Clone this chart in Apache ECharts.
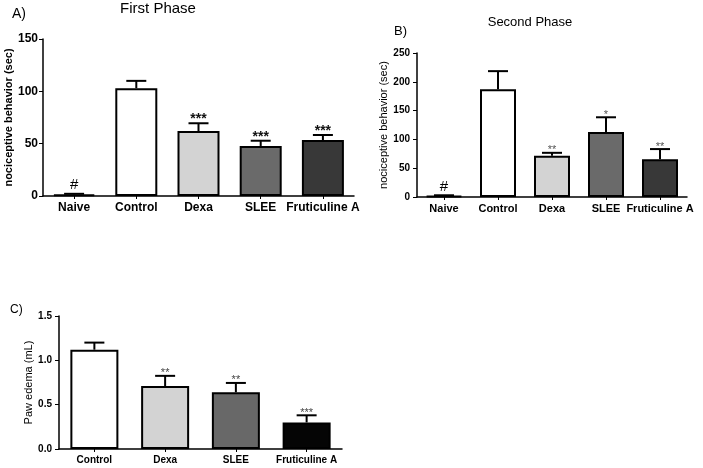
<!DOCTYPE html>
<html><head><meta charset="utf-8">
<script src="https://cdn.jsdelivr.net/npm/echarts@6/dist/echarts.min.js"></script>
<style>html,body{margin:0;padding:0;background:#fff}#c{width:703px;height:468px}</style>
</head><body><div id="c"></div>
<script>
const categoriesAB = ['Naive', 'Control', 'Dexa', 'SLEE', 'Fruticuline A'];
const phase1Means = [1.5, 103, 62, 47.8, 53.5];
const phase1Err = [0.6, 7, 7.5, 5, 4.8];
const phase1Sig = ['#', '', '***', '***', '***'];
const phase1Ticks = [0, 50, 100, 150];
const phase2Means = [2, 187, 71.5, 112.8, 65.7];
const phase2Err = [1, 31.5, 5.2, 25.6, 17.5];
const phase2Sig = ['#', '', '**', '*', '**'];
const phase2Ticks = [0, 50, 100, 150, 200, 250];
const categoriesC = ['Control', 'Dexa', 'SLEE', 'Fruticuline A'];
const edemaMeans = [1.12, 0.71, 0.64, 0.30];
const edemaErr = [0.08, 0.115, 0.105, 0.08];
const edemaSig = ['', '**', '**', '***'];
const edemaTicks = [0, 0.5, 1.0, 1.5];

const colorsAB = ['#ffffff', '#ffffff', '#d3d3d3', '#6a6a6a', '#383838'];
const colorsC = ['#ffffff', '#d3d3d3', '#686868', '#050505'];

const chart = echarts.init(document.getElementById('c'));
const FONT = 'Liberation Sans, Arial, sans-serif';

function barSeries(idx, means, colors, width) {
  return {
    type: 'bar', xAxisIndex: idx, yAxisIndex: idx, barWidth: width,
    data: means.map((v, i) => ({ value: v, itemStyle: { color: colors[i] } })),
    itemStyle: { borderColor: '#000', borderWidth: 2 },
    silent: true, animation: false, z: 2
  };
}
function errSeries(idx, means, errs, sigs, sigSize, sigColor, sigWeight) {
  return {
    type: 'custom', xAxisIndex: idx, yAxisIndex: idx, animation: false, silent: true, z: 3,
    data: means.map((v, i) => [i, v, v + errs[i]]),
    renderItem: function (params, api) {
      const i = api.value(0);
      const b = api.coord([i, api.value(1)]);
      const t = api.coord([i, api.value(2)]);
      const hw = 10;
      const st = { stroke: '#000', lineWidth: 2 };
      const children = [
        { type: 'line', shape: { x1: b[0], y1: b[1], x2: t[0], y2: t[1] }, style: st },
        { type: 'line', shape: { x1: t[0] - hw, y1: t[1], x2: t[0] + hw, y2: t[1] }, style: st }
      ];
      const s = sigs[i];
      if (s) {
        const isHash = s === '#';
        children.push({
          type: 'text',
          style: {
            text: s, x: t[0], y: t[1] - (isHash ? 1 : 0) + (s.indexOf('*') >= 0 ? 3 : 0),
            align: 'center', verticalAlign: 'bottom',
            fontSize: isHash ? 15 : sigSize, fontFamily: FONT,
            fontWeight: isHash ? 'normal' : sigWeight,
            fill: isHash ? '#000' : sigColor
          }
        });
      }
      return { type: 'group', children: children };
    }
  };
}
function xAxisDef(idx, cats, size) {
  return {
    type: 'category', gridIndex: idx, data: cats,
    axisLine: { lineStyle: { color: '#000', width: 1.5 } },
    axisTick: { show: true, alignWithLabel: true, length: 3, lineStyle: { color: '#000' } },
    axisLabel: { color: '#000', fontSize: size, fontWeight: 'bold', fontFamily: FONT, margin: 6, interval: 0 }
  };
}
function yAxisDef(idx, ticks, name, nameBold, nameSize, gap, labelSize, margin, decimals) {
  return {
    type: 'value', gridIndex: idx, min: ticks[0], max: ticks[ticks.length - 1],
    interval: ticks[1] - ticks[0],
    name: name, nameLocation: 'middle', nameGap: gap,
    nameTextStyle: { color: '#000', fontSize: nameSize, fontWeight: nameBold ? 'bold' : 'normal', fontFamily: FONT },
    axisLine: { show: true, lineStyle: { color: '#000', width: 1.5 } },
    axisTick: { show: true, length: 4, lineStyle: { color: '#000' } },
    splitLine: { show: false },
    axisLabel: {
      color: '#000', fontSize: labelSize, fontWeight: 'bold', fontFamily: FONT, margin: margin,
      formatter: function (v) { return decimals ? v.toFixed(decimals) : String(v); }
    }
  };
}

chart.setOption({
  animation: false,
  grid: [
    { left: 43, top: 39, width: 311, height: 157 },
    { left: 417, top: 53, width: 270, height: 144 },
    { left: 59, top: 316, width: 283, height: 133 }
  ],
  xAxis: [
    xAxisDef(0, categoriesAB, 12),
    xAxisDef(1, categoriesAB, 11),
    xAxisDef(2, categoriesC, 10)
  ],
  yAxis: [
    yAxisDef(0, phase1Ticks, 'nociceptive behavior (sec)', true, 11, 27, 12, 5, 0),
    yAxisDef(1, phase2Ticks, 'nociceptive behavior (sec)', false, 11, 25, 10, 7, 0),
    yAxisDef(2, edemaTicks, 'Paw edema (mL)', false, 11, 25, 10, 7, 1)
  ],
  graphic: [
    { type: 'text', left: 12, top: 7, style: { text: 'A)', fontSize: 14, fontFamily: FONT, fill: '#000' } },
    { type: 'text', x: 158, y: 1, style: { text: 'First Phase', fontSize: 15, fontFamily: FONT, fill: '#000', align: 'center' } },
    { type: 'text', left: 394, top: 25, style: { text: 'B)', fontSize: 13, fontFamily: FONT, fill: '#000' } },
    { type: 'text', x: 530, y: 16, style: { text: 'Second Phase', fontSize: 13, fontFamily: FONT, fill: '#000', align: 'center' } },
    { type: 'text', left: 10, top: 304, style: { text: 'C)', fontSize: 12, fontFamily: FONT, fill: '#000' } }
  ],
  series: [
    barSeries(0, phase1Means, colorsAB, 42),
    errSeries(0, phase1Means, phase1Err, phase1Sig, 14, '#111', 'bold'),
    barSeries(1, phase2Means, colorsAB, 36),
    errSeries(1, phase2Means, phase2Err, phase2Sig, 11, '#555', 'normal'),
    barSeries(2, edemaMeans, colorsC, 48),
    errSeries(2, edemaMeans, edemaErr, edemaSig, 11, '#444', 'normal')
  ]
});
</script></body></html>
